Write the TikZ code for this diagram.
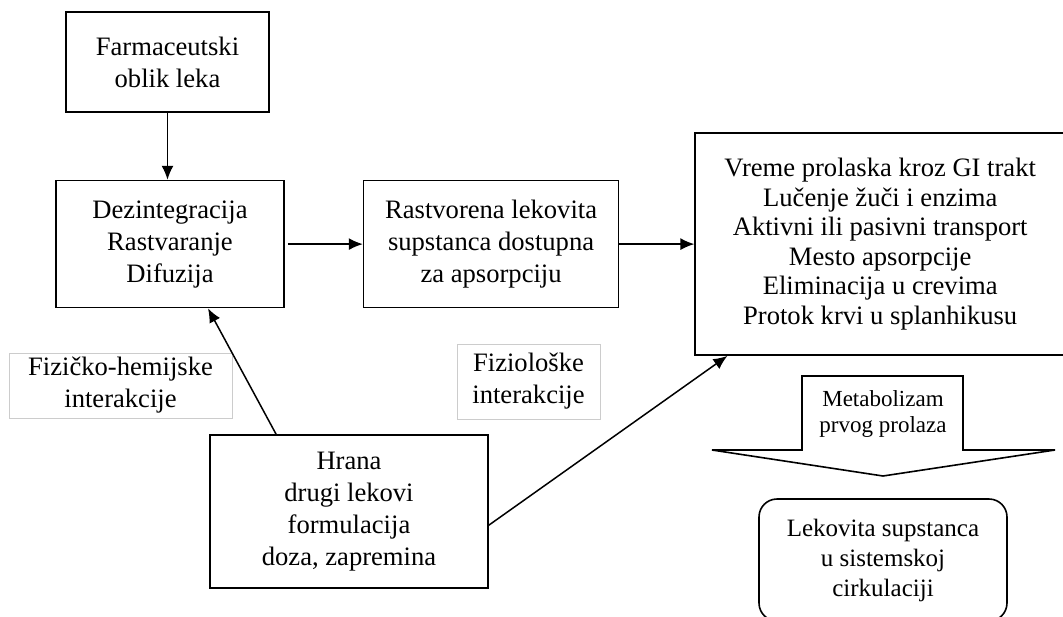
\documentclass[tikz,border=0pt]{standalone}
\usepackage{fontspec}
\setmainfont{Liberation Serif}
\usetikzlibrary{arrows.meta,positioning}
\tikzset{%
  >={Latex[width=12pt,length=14pt]},
  % Specifications for style of nodes:
         base/.style = {rectangle, draw=black, line width=1.6pt, inner sep=0pt,
                        text centered, font=\fontsize{26.6}{32}\selectfont},
          box/.style = {base, fill=white},
      listbox/.style = {base, font=\fontsize{26.6}{29.6}\selectfont},
         note/.style = {base, draw=black!20, line width=0.8pt},
    resultbox/.style = {base, rounded corners=18pt, font=\fontsize{25}{30}\selectfont},
   blockarrow/.style = {draw=black, line width=1.6pt, fill=white},
         link/.style = {->, line width=1.5pt}
}

\begin{document}
\begin{tikzpicture}[x=1pt, y=-1pt, align=center]
  \useasboundingbox (0,0) rectangle (1063,616);
  % Specification of nodes (position, etc.)
  \node (farm)    [box, minimum width=203pt, minimum height=100pt] at (167.5,62) {Farmaceutski\\oblik leka};
  \node (dez)     [box, minimum width=228pt, minimum height=127pt, below=67pt of farm, xshift=2.5pt]
                  {Dezintegracija\\Rastvaranje\\Difuzija};
  \node (rast)    [box, minimum width=255pt, minimum height=127pt, right=78pt of dez]
                  {Rastvorena lekovita\\supstanca dostupna\\za apsorpciju};
  \node (factors) [listbox, minimum width=370pt, minimum height=222pt, right=75pt of rast]
                  {Vreme prolaska kroz GI trakt\\Lučenje žuči i enzima\\Aktivni ili pasivni transport\\Mesto apsorpcije\\Eliminacija u crevima\\Protok krvi u splanhikusu};
  \node (hrana)   [box, minimum width=278pt, minimum height=153pt, below=126pt of dez, xshift=179pt]
                  {Hrana\\drugi lekovi\\formulacija\\doza, zapremina};
  \node (fizhem)  [note, minimum width=223pt, minimum height=65pt] at (120.5,385.5) {Fizičko-hemijske\\interakcije};
  \node (fiziol)  [note, minimum width=143pt, minimum height=75pt] at (528.5,381.5) {Fiziološke\\interakcije};

  % first pass metabolism
  \draw[blockarrow] (802,376) -- (963,376) -- (963,450) -- (1055,450) -- (883,476)
                    -- (712,450) -- (802,450) -- cycle;
  \node (metab)   [font=\fontsize{23}{26}\selectfont] at (883,414) {Metabolizam\\prvog prolaza};
  \node (circ)    [resultbox, minimum width=248pt, minimum height=122pt] at (883,560)
                  {Lekovita supstanca\\u sistemskoj\\cirkulaciji};

  \draw[link] (farm.south) -- (farm.south |- dez.north);
  \draw[link, shorten <=3pt] (dez.east) -- (rast.west);
  \draw[link] (rast.east) -- (rast.east -| factors.west);
  \draw[link] ([xshift=67pt]hrana.north west) -- ([xshift=38pt]dez.south);
  \draw[link] ([yshift=-13.5pt]hrana.east) -- ([xshift=33pt]factors.south west);
\end{tikzpicture}
\end{document}
